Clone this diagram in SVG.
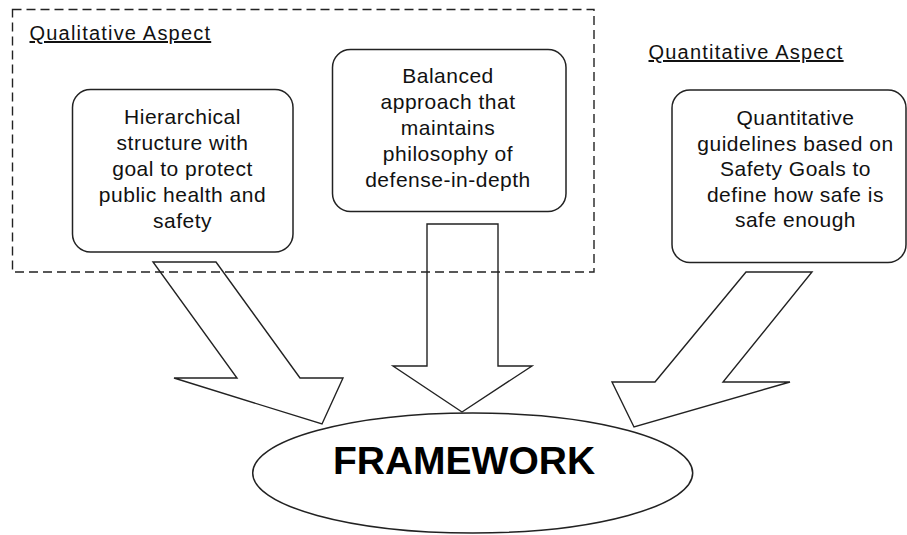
<svg xmlns="http://www.w3.org/2000/svg" width="907" height="535" viewBox="0 0 907 535">
<style>
.bg{fill:#ffffff}
.box{fill:#ffffff;stroke:#222;stroke-width:1.5}
.arrow{fill:none;stroke:#222;stroke-width:1.4;stroke-linejoin:miter}
.dash{fill:none;stroke:#222;stroke-width:1.4;stroke-dasharray:9 5}
.t{font-family:"Liberation Sans",Arial,sans-serif;font-size:21px;letter-spacing:0.5px;fill:#111;text-anchor:middle}
.h{font-family:"Liberation Sans",Arial,sans-serif;font-size:20px;letter-spacing:1.2px;fill:#111;text-decoration:underline}
.big{font-family:"Liberation Sans",Arial,sans-serif;font-size:39px;font-weight:bold;fill:#000;text-anchor:middle}
</style>
<rect class="bg" x="0" y="0" width="907" height="535"/>
<g id="qualitative-group">
<rect class="dash" x="12.5" y="9.5" width="581.5" height="262.5"/>
<text class="h" x="29.5" y="40">Qualitative Aspect</text>
</g>
<g id="quantitative-heading">
<text class="h" x="648.5" y="59">Quantitative Aspect</text>
</g>
<g id="node-hierarchical">
<rect class="box" x="72.5" y="89.5" width="220.5" height="162.5" rx="18" ry="18"/>
<text class="t"><tspan x="182.5" y="124">Hierarchical</tspan><tspan x="182.5" y="150">structure with</tspan><tspan x="182.5" y="176">goal to protect</tspan><tspan x="182.5" y="202">public health and</tspan><tspan x="182.5" y="228">safety</tspan></text>
</g>
<g id="node-balanced">
<rect class="box" x="332.5" y="49.5" width="233.5" height="162" rx="18" ry="18"/>
<text class="t"><tspan x="448" y="83">Balanced</tspan><tspan x="448" y="109">approach that</tspan><tspan x="448" y="135">maintains</tspan><tspan x="448" y="161">philosophy of</tspan><tspan x="448" y="187">defense-in-depth</tspan></text>
</g>
<g id="node-quantitative">
<rect class="box" x="672" y="90" width="234" height="172.5" rx="18" ry="18"/>
<text class="t"><tspan x="795.5" y="125">Quantitative</tspan><tspan x="795.5" y="150.5">guidelines based on</tspan><tspan x="795.5" y="176">Safety Goals to</tspan><tspan x="795.5" y="201.5">define how safe is</tspan><tspan x="795.5" y="227">safe enough</tspan></text>
</g>
<g id="connectors">
<polygon class="arrow" points="153,262 216,262 300,378 343,378 322,424 174,378 237,378"/>
<polygon class="arrow" points="427,224 498,224 498,366 532,366 462,412 393,366 427,366"/>
<polygon class="arrow" points="746,272 812,272 723,382 790,382 634,427 612,382 655,382"/>
</g>
<g id="node-framework">
<ellipse class="box" cx="472.7" cy="473" rx="220" ry="60"/>
<text class="big" x="464" y="474">FRAMEWORK</text>
</g>
</svg>
